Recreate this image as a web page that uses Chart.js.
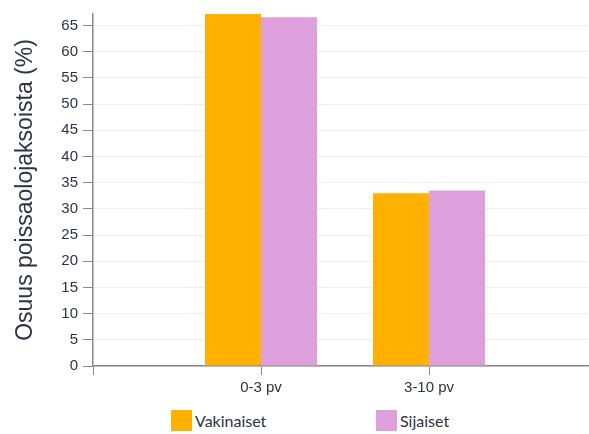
<!DOCTYPE html>
<html>
<head>
<meta charset="utf-8">
<script src="https://cdn.jsdelivr.net/npm/chart.js@4"></script>
<style>
  body { margin: 0; background: #fff; }
  #wrap { position: relative; width: 589px; height: 434px; }
  #legend { position: absolute; top: 410px; left: 0; width: 589px; height: 24px;
    font-family: "Lato", "Open Sans", sans-serif; font-size: 16px; color: #2b3345; }
  .item { position: absolute; top: 0; display: flex; align-items: center; }
  .box { width: 21px; height: 21px; margin-right: 3px; }
</style>
</head>
<body>
<div id="wrap">
  <canvas id="myChart" width="589" height="401"></canvas>
  <div id="legend"></div>
</div>
<script>
var categories = ["0-3 pv", "3-10 pv"];
var vakinaiset = [67.2, 33.0];
var sijaiset = [66.6, 33.5];
var yTicks = [0, 5, 10, 15, 20, 25, 30, 35, 40, 45, 50, 55, 60, 65];
var seriesNames = ["Vakinaiset", "Sijaiset"];
var colors = ["#ffb000", "#dda0dd"];
var legendLeft = [171, 376];

function points(values) {
    var out = [];
    for (var i = 0; i < values.length; i++) {
        out.push({ x: i + 1, y: values[i] });
    }
    return out;
}

var ctx = document.getElementById("myChart");
var chart = new Chart(ctx, {
    type: "bar",
    data: {
        datasets: [
            { label: seriesNames[0], data: points(vakinaiset), backgroundColor: colors[0] },
            { label: seriesNames[1], data: points(sijaiset), backgroundColor: colors[1] }
        ]
    },
    options: {
        responsive: false,
        animation: false,
        layout: { padding: { top: 12, right: 1, left: 0, bottom: 0 } },
        categoryPercentage: 0.667,
        barPercentage: 1.0,
        plugins: { legend: { display: false }, tooltip: { enabled: false } },
        scales: {
            x: {
                type: "linear",
                offset: false,
                min: 0,
                max: 2.946,
                afterBuildTicks: function(scale) {
                    scale.ticks = [{ value: 0 }, { value: 1 }, { value: 2 }];
                },
                ticks: {
                    autoSkip: false,
                    maxRotation: 0,
                    padding: 4,
                    color: "#2b3345",
                    font: { family: "Liberation Sans", size: 15 },
                    callback: function(v) { return v >= 1 ? categories[v - 1] : ""; }
                },
                grid: { offset: false, drawOnChartArea: false, tickLength: 9, color: "#888" },
                border: { color: "#888", width: 1.5 }
            },
            y: {
                min: 0,
                max: Math.max.apply(null, vakinaiset.concat(sijaiset)),
                afterBuildTicks: function(scale) {
                    scale.ticks = yTicks.map(function(v) { return { value: v }; });
                },
                afterFit: function(scale) { scale.width = 93; },
                ticks: {
                    padding: 5,
                    color: "#2b3345",
                    font: { family: "Liberation Sans", size: 15 }
                },
                grid: { color: "#eeeeee", tickLength: 10, tickColor: "#888" },
                border: { color: "#888", width: 1.5 },
                title: {
                    display: true,
                    text: "Osuus poissaolojaksoista (%)",
                    color: "#2b3345",
                    padding: { top: 12, bottom: 0 },
                    font: { family: "Liberation Sans", size: 23 }
                }
            }
        }
    }
});

var legend = document.getElementById("legend");
for (var i = 0; i < seriesNames.length; i++) {
    var item = document.createElement("div");
    item.className = "item";
    item.style.left = legendLeft[i] + "px";
    var box = document.createElement("span");
    box.className = "box";
    box.style.background = colors[i];
    item.appendChild(box);
    item.appendChild(document.createTextNode(seriesNames[i]));
    legend.appendChild(item);
}
</script>
</body>
</html>
